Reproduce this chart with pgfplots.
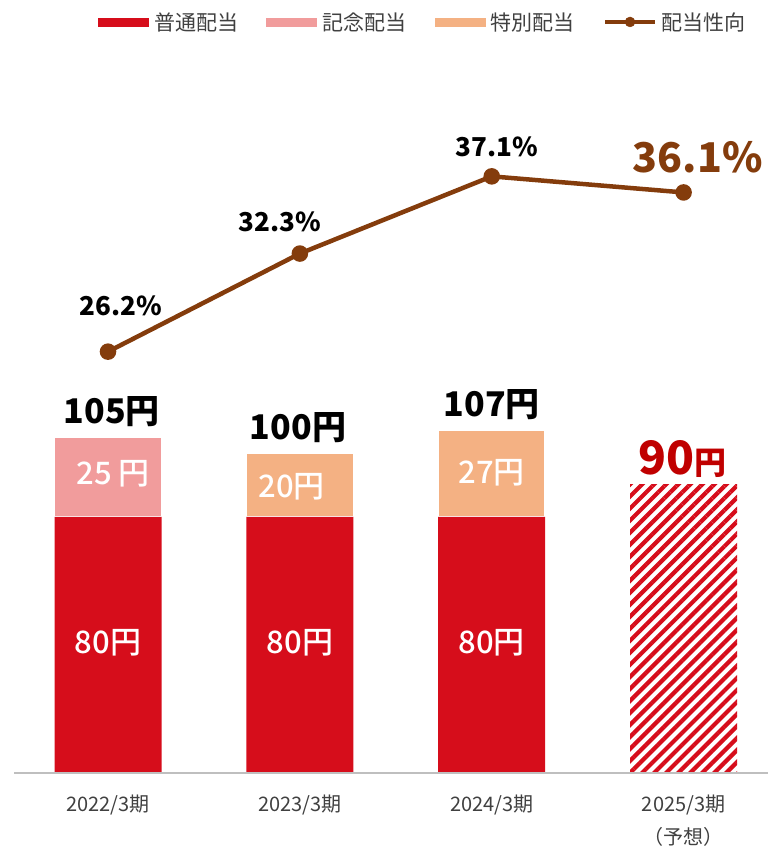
\documentclass[border=0pt]{standalone}
\usepackage{fontspec}
\setmainfont{Noto Sans CJK JP}
\newfontfamily\medfont{Noto Sans CJK JP}[UprightFont=* Medium]
\usepackage{pgfplots}
\pgfplotsset{compat=1.18}
\usetikzlibrary{patterns.meta}
\definecolor{cRed}{RGB}{214,13,27}
\definecolor{cPink}{RGB}{241,156,156}
\definecolor{cOrange}{RGB}{244,177,131}
\definecolor{cBrown}{RGB}{132,60,12}
\definecolor{cDark}{RGB}{192,0,0}
\definecolor{cGray}{RGB}{191,191,191}
\definecolor{cTick}{RGB}{64,64,64}
\begin{document}
\begin{tikzpicture}
\path[use as bounding box] (0,0) rectangle (768pt,850pt);
\begin{axis}[
  at={(14pt,77pt)}, anchor=south west, scale only axis,
  width=754pt, height=733pt,
  xmin=-0.49, xmax=3.44, ymin=0, ymax=229.06,
  ybar stacked, bar width=107pt,
  axis x line=bottom, axis y line=none,
  axis line style={draw=cGray, line width=1.5pt, -},
  xtick={0,1,2,3},
  xticklabels={{2022/3期},{2023/3期},{2024/3期},{2025/3期\\（予想）}},
  major tick length=0pt,
  xticklabel style={font=\fontsize{20}{33}\selectfont, text=cTick, align=center, anchor=north, yshift=-18pt},
  clip=false, axis on top,
]
\addplot[fill=cRed, draw=none] coordinates {(0,80) (1,80) (2,80) (3,0)};
\addplot[fill=cPink, draw=white, line width=1.5pt] coordinates {(0,25) (1,0) (2,0) (3,0)};
\addplot[fill=cOrange, draw=white, line width=1.5pt] coordinates {(0,0) (1,20) (2,27) (3,0)};
\addplot[draw=none, pattern={Lines[angle=45,distance=8.5pt,line width=4.2pt]}, pattern color=cRed] coordinates {(0,0) (1,0) (2,0) (3,90)};
\end{axis}
\begin{axis}[
  at={(14pt,77pt)}, anchor=south west, scale only axis,
  width=754pt, height=733pt,
  xmin=-0.49, xmax=3.44, ymin=0, ymax=45.58,
  hide axis, clip=false,
  legend columns=4,
  legend style={at={(0.1114,1.0246)}, anchor=west, draw=none, fill=none, inner sep=0pt,
    font=\fontsize{21}{24}\selectfont, text=cTick,
    /tikz/every even column/.append style={column sep=26pt}},
]
\addlegendimage{legend image code/.code={\fill[cRed] (0pt,-4pt) rectangle (50pt,4pt); \path[draw=none,fill=none] (0pt,0pt) -- (54pt,0pt);}}
\addlegendentry{普通配当}
\addlegendimage{legend image code/.code={\fill[cPink] (0pt,-4pt) rectangle (50pt,4pt); \path[draw=none,fill=none] (0pt,0pt) -- (54pt,0pt);}}
\addlegendentry{記念配当}
\addlegendimage{legend image code/.code={\fill[cOrange] (0pt,-4pt) rectangle (50pt,4pt); \path[draw=none,fill=none] (0pt,0pt) -- (54pt,0pt);}}
\addlegendentry{特別配当}
\addlegendimage{legend image code/.code={\draw[cBrown, line width=4.5pt] (0pt,0pt) -- (50pt,0pt); \fill[cBrown] (25pt,0pt) circle (5pt); \path[draw=none,fill=none] (0pt,0pt) -- (54pt,0pt);}}
\addlegendentry{配当性向}
\addplot[forget plot, color=cBrown, line width=4.5pt, mark=*, mark size=6pt, mark options={solid}] coordinates {(0,26.2) (1,32.3) (2,37.1) (3,36.1)};
% in-bar labels (dividend axis value x 0.199)
\node[font=\medfont\fontsize{31}{33}\selectfont, text=white] at (axis cs:0,8.08) {80円};
\node[font=\medfont\fontsize{31}{33}\selectfont, text=white] at (axis cs:1,8.08) {80円};
\node[font=\medfont\fontsize{31}{33}\selectfont, text=white] at (axis cs:2,8.08) {80円};
\node[font=\medfont\fontsize{31}{33}\selectfont, text=white] at (axis cs:0.026,18.59) {25 円};
\node[font=\medfont\fontsize{31}{33}\selectfont, text=white] at (axis cs:0.958,17.79) {20円};
\node[font=\medfont\fontsize{31}{33}\selectfont, text=white] at (axis cs:2,18.66) {27円};
% totals
\node[font=\bfseries\fontsize{34}{36}\selectfont, text=black] at (axis cs:0.02,22.45) {105円};
\node[font=\bfseries\fontsize{34}{36}\selectfont, text=black] at (axis cs:0.99,21.45) {100円};
\node[font=\bfseries\fontsize{34}{36}\selectfont, text=black] at (axis cs:2,22.89) {107円};
\node[text=cDark] at (axis cs:2.995,19.52) {\bfseries\fontsize{46}{48}\selectfont 90\fontsize{32}{34}\selectfont 円};
% payout ratio labels
\node[font=\bfseries\fontsize{26}{28}\selectfont] at (axis cs:0.068,29.04) {26.2\%};
\node[font=\bfseries\fontsize{26}{28}\selectfont] at (axis cs:0.896,34.27) {32.3\%};
\node[font=\bfseries\fontsize{26}{28}\selectfont] at (axis cs:2.026,38.93) {37.1\%};
\node[font=\bfseries\fontsize{41}{43}\selectfont, text=cBrown] at (axis cs:3.073,38.31) {36.1\%};
\end{axis}
\end{tikzpicture}
\end{document}
